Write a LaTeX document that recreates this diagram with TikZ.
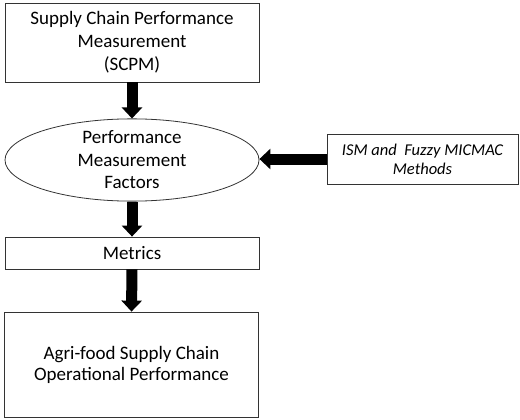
\documentclass[tikz,border=0pt]{standalone}
\usepackage{fontspec}
\setmainfont{Carlito}
\usepackage{tikz}
\usetikzlibrary{arrows.meta}
\usetikzlibrary{shapes.geometric}
\usetikzlibrary{positioning}

\begin{document}
\begin{tikzpicture}[x=1pt,y=-1pt,
	box/.style={draw=black!80,line width=0.8pt,rectangle,minimum width=254pt,align=center,inner sep=0pt,font=\fontsize{19}{23}\selectfont},
	oval/.style={draw=black!80,line width=0.8pt,ellipse,minimum width=254pt,minimum height=70pt,align=center,inner sep=0pt,font=\fontsize{19}{22.5}\selectfont},
	bigarrow/.style={line width=11pt,-{Triangle[width=20pt,length=11pt]}}]
	\useasboundingbox (0,0) rectangle (520,420);
	\node[box,minimum height=79pt] (scpm) at (132,42.5) {Supply Chain Performance\\Measurement\\(SCPM)};
	\node[oval] (pmf) at (132,160) {Performance\\Measurement\\Factors};
	\node[box,minimum height=32pt] (metrics) at (132,253) {Metrics};
	\node[box,minimum height=105pt,font=\fontsize{19}{21}\selectfont] (asop) at (131.5,364.5) {Agri-food Supply Chain\\Operational Performance};
	\node[box,minimum width=191pt,minimum height=50pt,font=\fontsize{16.5}{19}\selectfont\itshape] (ism) at (422.5,159) {ISM and~ Fuzzy MICMAC\\Methods};
	\draw[bigarrow] (scpm.south) -- (pmf.north);
	\draw[bigarrow] (pmf.south) -- (metrics.north);
	\draw[bigarrow] (metrics.south) -- (asop.north);
	\draw[bigarrow] (ism.west) -- (ism.west -| pmf.east);
\end{tikzpicture}
\end{document}
